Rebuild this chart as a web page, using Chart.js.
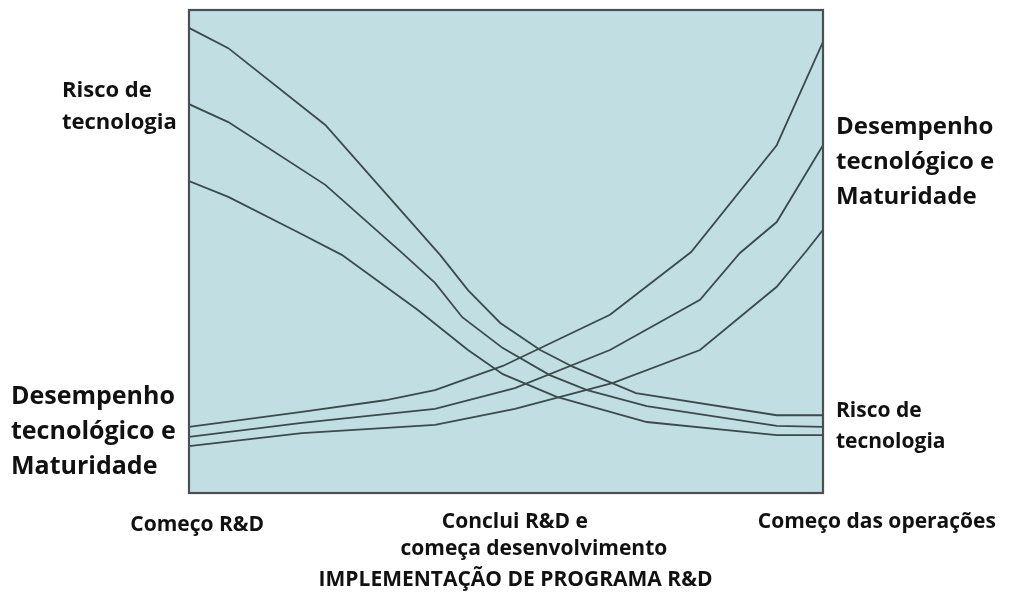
<!DOCTYPE html>
<html>
<head>
<meta charset="utf-8">
<script src="https://cdn.jsdelivr.net/npm/chart.js@4"></script>
<style>
  html, body { margin: 0; padding: 0; background: #fff; }
  #wrap { width: 1009px; height: 606px; position: relative; }
</style>
</head>
<body>
<div id="wrap"><canvas id="chart"></canvas></div>
<script>
// Risco de tecnologia (three descending curves), x = progress 0..100
const riskAx = [0, 6.2, 21.5, 28.9, 39.6, 44.0, 49.1, 55.4, 60.6, 70.5, 92.7, 100];
const riskAy = [96.3, 92.1, 76.2, 65.2, 49.3, 42.0, 35.2, 29.6, 26.1, 20.7, 16.1, 16.1];
const riskBx = [0, 6.2, 21.5, 33.6, 38.8, 43.1, 49.5, 56.9, 62.8, 72.2, 92.7, 100];
const riskBy = [80.5, 76.8, 63.8, 49.7, 43.5, 36.4, 30.0, 24.4, 21.3, 18.0, 13.9, 13.7];
const riskCx = [0, 6.2, 17.2, 24.1, 36.1, 44.0, 49.5, 58.0, 72.2, 92.7, 100];
const riskCy = [64.6, 61.3, 54.0, 49.3, 37.9, 29.6, 24.6, 19.9, 14.7, 12.0, 12.0];

// Desempenho tecnológico e Maturidade (three rising curves)
const perfDx = [0, 17.8, 30.9, 38.8, 49.5, 66.4, 79.2, 92.7, 100];
const perfDy = [13.7, 16.8, 19.2, 21.3, 26.3, 36.9, 49.9, 72.0, 93.4];
const perfEx = [0, 17.8, 38.8, 51.4, 66.4, 80.6, 86.9, 92.7, 100];
const perfEy = [11.6, 14.5, 17.4, 21.7, 29.6, 40.0, 49.7, 56.1, 72.0];
const perfFx = [0, 17.8, 38.8, 51.4, 66.9, 80.6, 92.7, 97.5, 100];
const perfFy = [9.7, 12.4, 14.1, 17.4, 22.8, 29.6, 42.7, 50.3, 54.5];

const stageLabels = ["Começo R&D", "Conclui R&D e", "começa desenvolvimento", "Começo das operações"];
const axisTitle = "IMPLEMENTAÇÃO DE PROGRAMA R&D";
const leftTopLabel = ["Risco de", "tecnologia"];
const leftBottomLabel = ["Desempenho", "tecnológico e", "Maturidade"];
const rightTopLabel = ["Desempenho", "tecnológico e", "Maturidade"];
const rightBottomLabel = ["Risco de", "tecnologia"];

function pts(xs, ys) {
  return xs.map((x, i) => ({ x: x, y: ys[i] }));
}

function series(xs, ys) {
  return {
    data: pts(xs, ys),
    borderColor: "#3c4a4d",
    borderWidth: 1.8,
    pointRadius: 0,
    tension: 0,
    fill: false,
  };
}

const FONT = "'Open Sans', Lato, sans-serif";

function drawLines(ctx, lines, x, y, size, gap, align) {
  ctx.font = "bold " + size + "px " + FONT;
  ctx.textAlign = align;
  ctx.textBaseline = "middle";
  lines.forEach((t, i) => ctx.fillText(t, x, y + i * gap));
}

const framePlugin = {
  id: "frame",
  beforeDraw(chart) {
    const { ctx, chartArea: a } = chart;
    ctx.save();
    ctx.fillStyle = "#c1dfe2";
    ctx.fillRect(a.left, a.top, a.right - a.left, a.bottom - a.top);
    ctx.restore();
  },
  afterDraw(chart) {
    const { ctx, chartArea: a } = chart;
    ctx.save();
    ctx.strokeStyle = "#4a4f51";
    ctx.lineWidth = 2.2;
    ctx.strokeRect(a.left, a.top, a.right - a.left, a.bottom - a.top);

    ctx.fillStyle = "#111";
    // side labels
    drawLines(ctx, leftTopLabel, 62, 91, 22, 32, "left");
    drawLines(ctx, leftBottomLabel, 11, 397, 25, 35, "left");
    drawLines(ctx, rightTopLabel, a.right + 13, 127, 24, 35, "left");
    drawLines(ctx, rightBottomLabel, a.right + 13, 411, 21, 31, "left");

    // stage labels under the axis
    const xs = chart.scales.x;
    drawLines(ctx, [stageLabels[0]], xs.getPixelForValue(1.3), a.bottom + 32, 21, 26, "center");
    drawLines(ctx, [stageLabels[1]], xs.getPixelForValue(51.4), a.bottom + 29, 21, 26, "center");
    drawLines(ctx, [stageLabels[2]], xs.getPixelForValue(54.4), a.bottom + 56, 21, 26, "center");
    drawLines(ctx, [stageLabels[3]], xs.getPixelForValue(108.5), a.bottom + 29, 21, 26, "center");
    drawLines(ctx, [axisTitle], xs.getPixelForValue(51.5), a.bottom + 87, 21, 26, "center");
    ctx.restore();
  },
};

new Chart(document.getElementById("chart"), {
  type: "line",
  data: {
    datasets: [
      series(riskAx, riskAy),
      series(riskBx, riskBy),
      series(riskCx, riskCy),
      series(perfDx, perfDy),
      series(perfEx, perfEy),
      series(perfFx, perfFy),
    ],
  },
  options: {
    responsive: true,
    maintainAspectRatio: false,
    animation: false,
    layout: { padding: { left: 189, top: 10, right: 186, bottom: 113 } },
    plugins: { legend: { display: false }, tooltip: { enabled: false } },
    scales: {
      x: { type: "linear", min: 0, max: 100, display: false },
      y: { type: "linear", min: 0, max: 100, display: false },
    },
  },
  plugins: [framePlugin],
});
</script>
</body>
</html>
